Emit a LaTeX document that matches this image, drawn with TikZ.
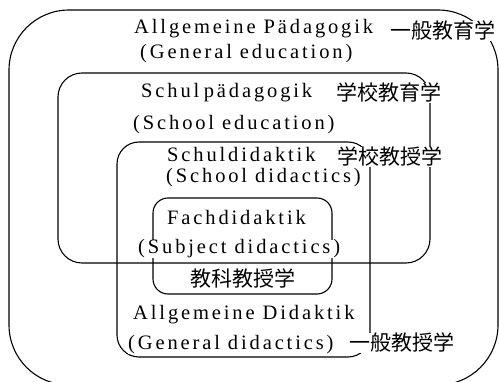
\documentclass[tikz,border=0pt]{standalone}
\usepackage{fontspec}
\setmainfont{Liberation Serif}[LetterSpace=14]
\newfontfamily\jpfont{Noto Sans CJK JP}
\begin{document}
\begin{tikzpicture}[x=1pt,y=-1pt,
  box/.style={draw, line width=1.1pt, inner sep=0pt, outer sep=0pt},
  lat/.style={anchor=base west, inner sep=0pt, fill=white, font=\fontsize{20.5}{24}\selectfont},
  jp/.style={anchor=west, inner sep=0pt, fill=white, font=\fontsize{21}{24}\jpfont},
]
\useasboundingbox (0,0) rectangle (499,382);
% boxes
\node[box, rounded corners=60pt, minimum width=489pt, minimum height=375pt] (b1) at (253.5,197.5) {};
\node[box, rounded corners=24pt, minimum width=372pt, minimum height=190pt] (b2) at (244,168) {};
\node[box, rounded corners=22pt, minimum width=253pt, minimum height=215pt] (b3) at (243.5,249.5) {};
\node[box, rounded corners=15pt, minimum width=179pt, minimum height=96pt] (b4) at (242.5,246) {};
% labels
\node[lat] (t1) at (134,34) {Allgemeine Pädagogik};
\node[jp]  (j1) at (390,31) {一般教育学};
\node[lat] (t2) at (140,59) {(General education)};
\node[lat] (t3) at (141,98) {{\spaceskip=4.5pt Schul pädagogik}};
\node[jp]  (j3) at (336,93) {学校教育学};
\node[lat] (t4) at (133,130) {(School education)};
\node[lat] (t5) at (167,162) {Schuldidaktik};
\node[jp]  (j5) at (337,157) {学校教授学};
\node[lat] (t6) at (166,183) {(School didactics)};
\node[lat] (t7) at (167,225) {Fachdidaktik};
\node[lat] (t8) at (138,254) {(Subject didactics)};
\node[jp]  (j9) at (190,279) {教科教授学};
\node[lat] (t10) at (133,320) {Allgemeine Didaktik};
\node[lat] (t11) at (128,350) {(General didactics)};
\node[jp]  (j11) at (349,343) {一般教授学};
\end{tikzpicture}
\end{document}
